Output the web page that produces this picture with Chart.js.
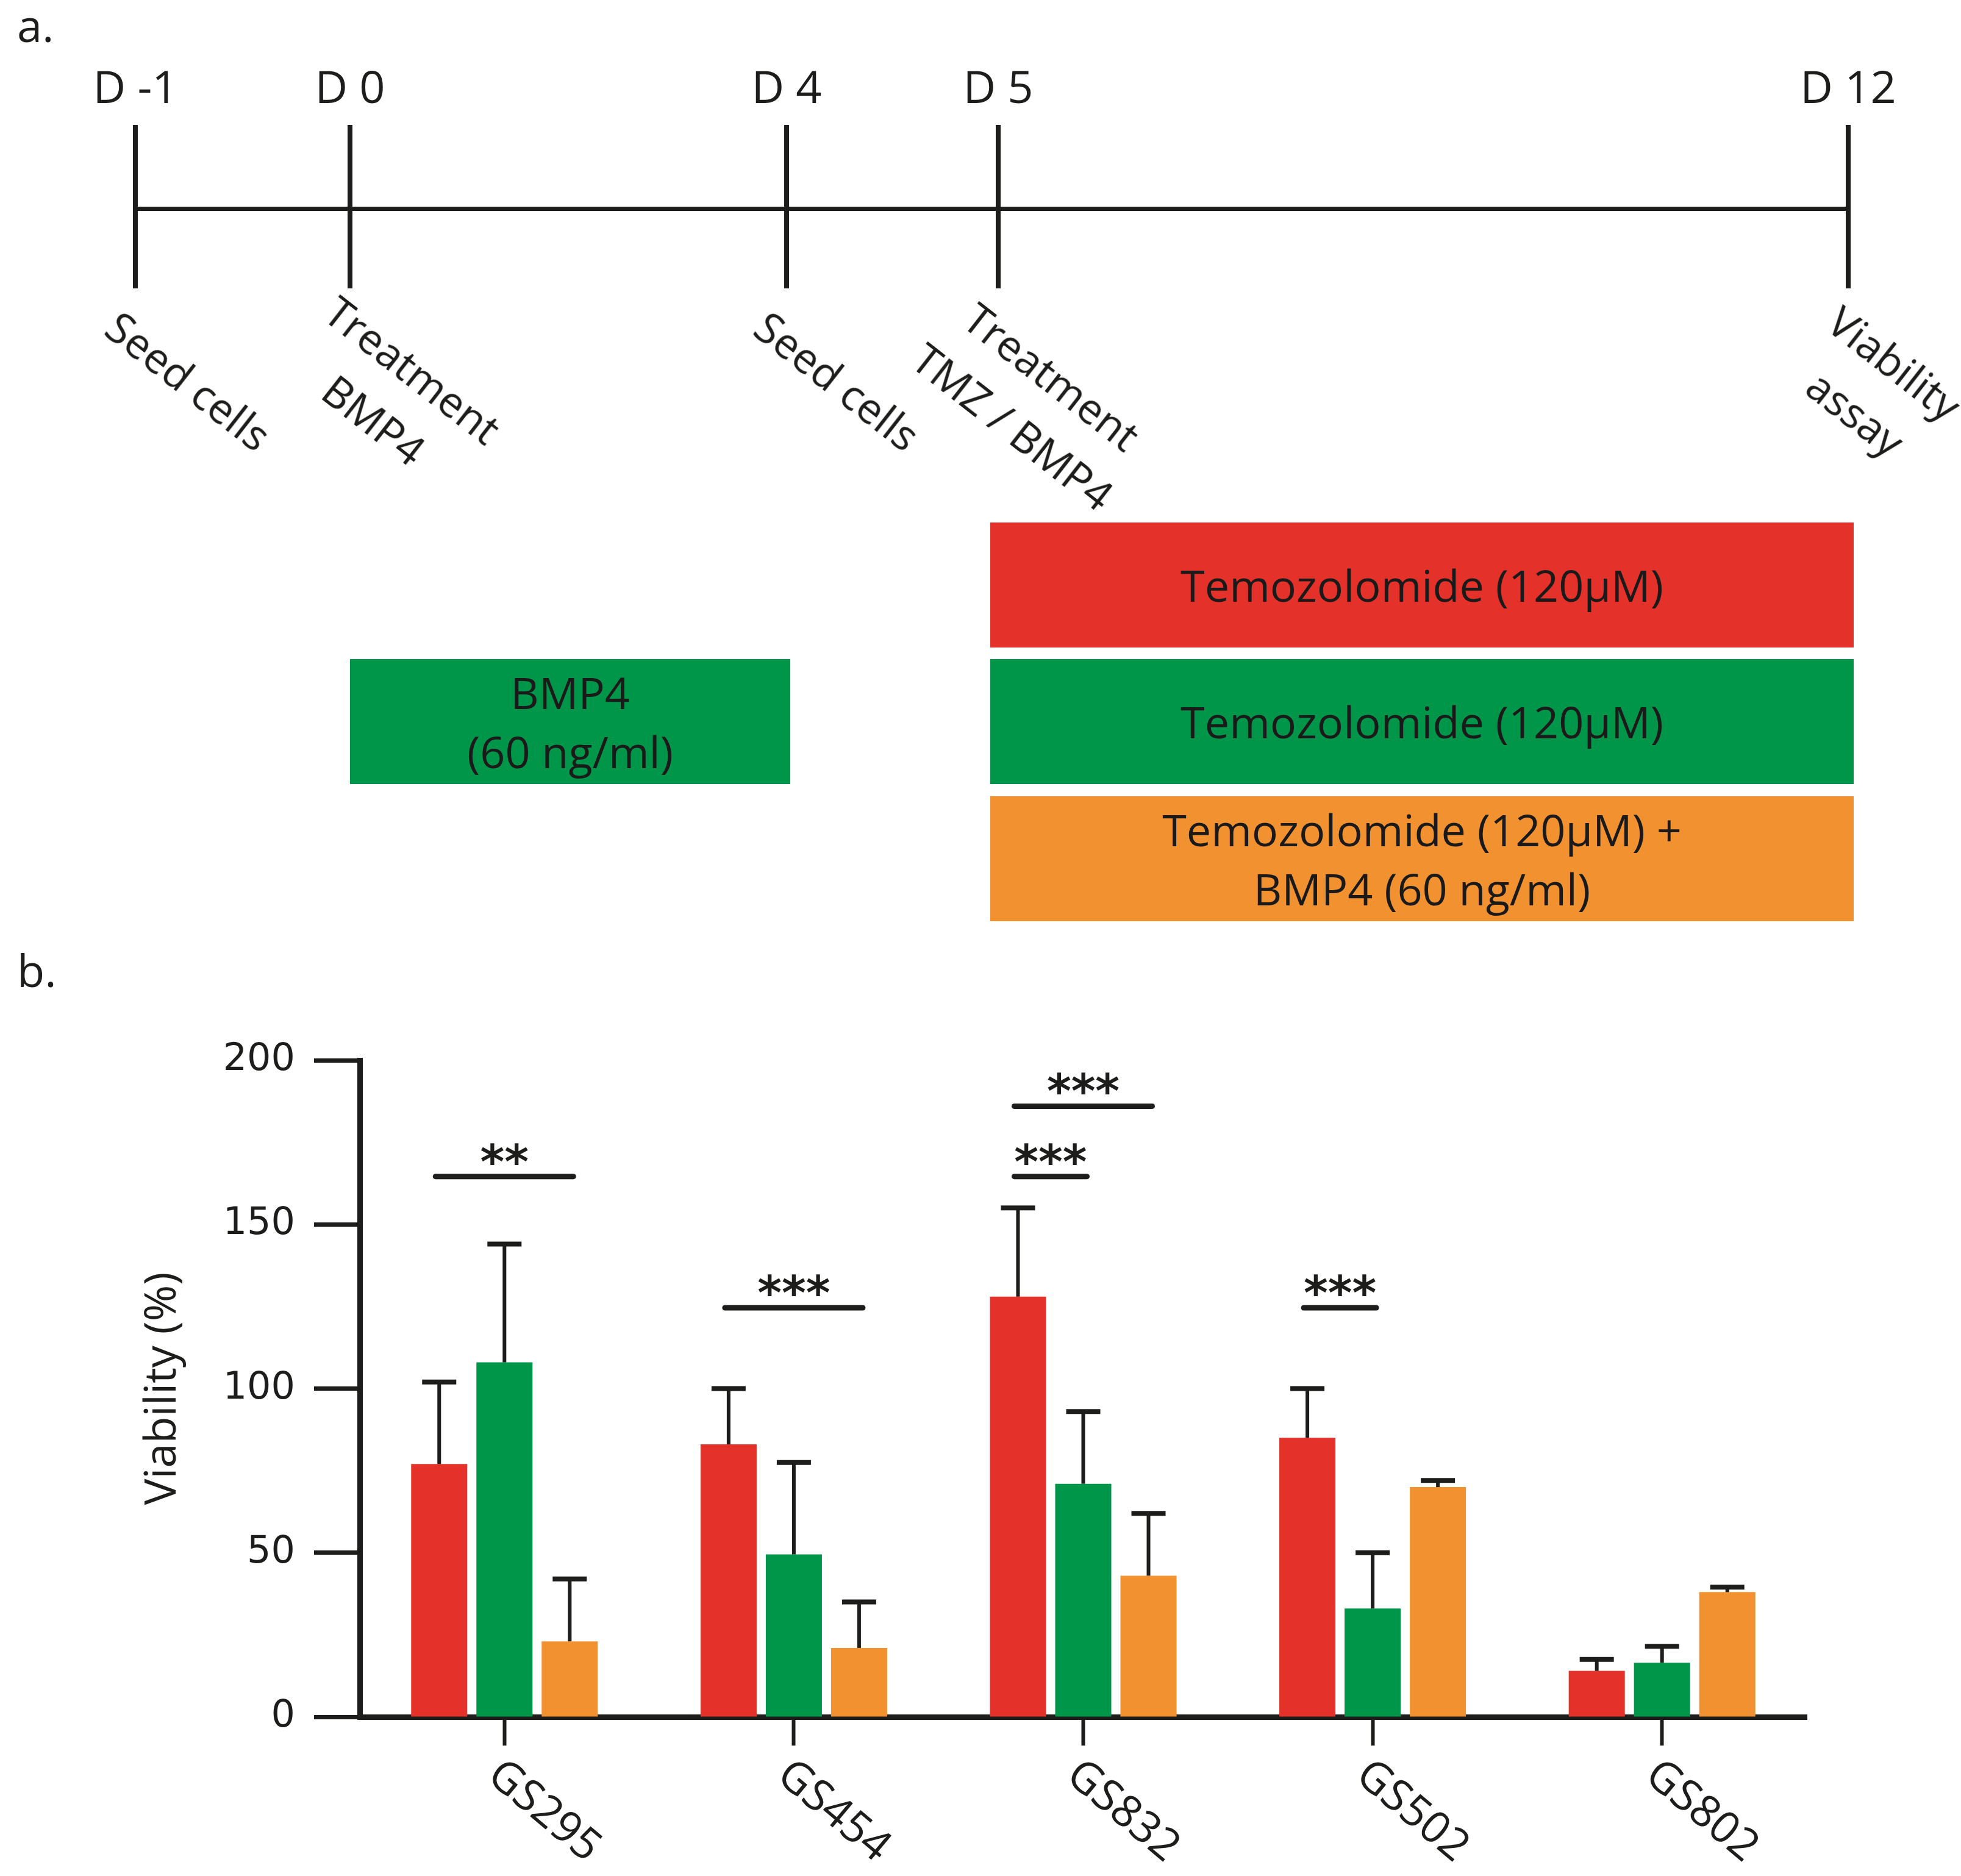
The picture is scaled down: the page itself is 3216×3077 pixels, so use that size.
<!DOCTYPE html>
<html>
<head>
<meta charset="utf-8">
<title>Viability after BMP4 / Temozolomide</title>
<script src="https://cdn.jsdelivr.net/npm/chart.js@4.4.0/dist/chart.umd.min.js"></script>
<style>
  html, body { margin: 0; padding: 0; background: #fff; }
  #page { position: relative; width: 3216px; height: 3077px; overflow: hidden;
          font-family: 'Open Sans', sans-serif; color: #1d1d1b; }
  #chart { position: absolute; left: 0; top: 0; }
  .abs { position: absolute; white-space: pre; }
  .panel-tag { font-size: 74px; line-height: 74px; }
  .day { font-size: 74px; line-height: 74px; transform: translateX(-50%); }
  .event { font-size: 70px; line-height: 104px; text-align: center;
           transform: translate(-50%, -50%) rotate(38deg); }
  .rule { background: #1d1d1b; }
  .box { display: flex; align-items: center; justify-content: center; text-align: center;
         font-size: 72px; line-height: 97px; color: #1a1a1a; }
</style>
</head>
<body>
<div id="page">
  <canvas id="chart" width="3216" height="3077"></canvas>
</div>
<script>
// ---- panel a: treatment schedule ----
const days = [-1, 0, 4, 5, 12];
const dayEvents = ['Seed cells', 'Treatment\nBMP4', 'Seed cells', 'Treatment\nTMZ / BMP4', 'Viability\nassay'];
const pretreatLabel = 'BMP4\n(60 ng/ml)';
const armLabels = ['Temozolomide (120µM)', 'Temozolomide (120µM)', 'Temozolomide (120µM) +\nBMP4 (60 ng/ml)'];

// ---- panel b: viability per cell line ----
const categories = ['GS295', 'GS454', 'GS832', 'GS502', 'GS802'];
const seriesNames = ['Temozolomide', 'BMP4 then Temozolomide', 'Temozolomide + BMP4'];
const tmzMean = [77, 83, 128, 85, 14];
const tmzErr = [25, 17, 27, 15, 3.5];
const preMean = [108, 49.5, 71, 33, 16.5];
const preErr = [36, 28, 22, 17, 5];
const comboMean = [23, 21, 43, 70, 38];
const comboErr = [19, 14, 19, 2, 1.5];
const yTicks = [0, 50, 100, 150, 200];

// significance brackets: category, first series, second series, height (%), label
const sigCategory = [0, 1, 2, 2, 3];
const sigFrom = [0, 0, 0, 0, 0];
const sigTo = [2, 2, 1, 2, 1];
const sigLevel = [164.6, 124.6, 164.6, 186, 124.6];
const sigLabel = ['**', '***', '***', '***', '***'];

const ink = '#1d1d1b';
const armColors = ['#e4322b', '#00964a', '#f29130'];

// ---- build panel a (schematic) ----
const page = document.getElementById('page');
function add(cls, css, text) {
  const d = document.createElement('div');
  d.className = 'abs ' + cls;
  Object.assign(d.style, css);
  if (text) d.textContent = text;
  page.appendChild(d);
  return d;
}

const dayX = [222, 574, 1290, 1637, 3031];
const eventCenter = [[310, 624], [646, 647], [1374, 624], [1694, 658], [3076, 636]];

add('panel-tag', { left: '28px', top: '4px' }, 'a.');
add('panel-tag', { left: '28px', top: '1554px' }, 'b.');

add('rule', { left: dayX[0] + 'px', top: '339px', width: (dayX[4] - dayX[0]) + 'px', height: '7px' });
days.forEach((d, i) => {
  add('rule', { left: (dayX[i] - 4) + 'px', top: '205px', width: '8px', height: '268px' });
  add('day', { left: dayX[i] + 'px', top: '104px' }, 'D ' + d);
  add('event', { left: eventCenter[i][0] + 'px', top: eventCenter[i][1] + 'px' }, dayEvents[i]);
});

add('box', { left: dayX[1] + 'px', top: '1081px', width: (dayX[2] + 6 - dayX[1]) + 'px', height: '205px',
             background: armColors[1] }, pretreatLabel);
const armTop = [857, 1081, 1306];
armLabels.forEach((t, i) => {
  add('box', { left: (dayX[3] - 13) + 'px', top: armTop[i] + 'px', width: (dayX[4] + 9 - dayX[3] + 13) + 'px',
               height: '205px', background: armColors[i] }, t);
});

// ---- panel b chart ----
const annotations = {
  id: 'annotations',
  afterDatasetsDraw(chart) {
    const { ctx, scales: { x, y } } = chart;
    ctx.save();
    ctx.strokeStyle = ink;
    ctx.fillStyle = ink;

    // error bars (upper only)
    chart.data.datasets.forEach((ds, di) => {
      chart.getDatasetMeta(di).data.forEach((bar, i) => {
        const top = y.getPixelForValue(ds.data[i] + ds.errors[i]);
        ctx.lineWidth = 6;
        ctx.beginPath();
        ctx.moveTo(bar.x, bar.y);
        ctx.lineTo(bar.x, top);
        ctx.stroke();
        ctx.lineWidth = 8;
        ctx.beginPath();
        ctx.moveTo(bar.x - 28, top);
        ctx.lineTo(bar.x + 28, top);
        ctx.stroke();
      });
    });

    // significance lines and stars
    ctx.lineWidth = 9;
    ctx.lineCap = 'round';
    ctx.font = 'bold 76px "DejaVu Sans"';
    ctx.textAlign = 'center';
    ctx.textBaseline = 'alphabetic';
    sigLabel.forEach((lab, k) => {
      const a = chart.getDatasetMeta(sigFrom[k]).data[sigCategory[k]];
      const b = chart.getDatasetMeta(sigTo[k]).data[sigCategory[k]];
      const ly = y.getPixelForValue(sigLevel[k]);
      ctx.beginPath();
      ctx.moveTo(a.x - 6, ly);
      ctx.lineTo(b.x + 6, ly);
      ctx.stroke();
      const m = ctx.measureText(lab);
      const cy = ly - 37;
      const base = cy - (m.actualBoundingBoxDescent - m.actualBoundingBoxAscent) / 2;
      ctx.fillText(lab, (a.x + b.x) / 2, base);
    });
    ctx.restore();
  },
  afterDraw(chart) {
    const { ctx, scales: { x } } = chart;
    ctx.save();
    ctx.fillStyle = ink;
    ctx.font = '72px "Open Sans"';
    ctx.textAlign = 'left';
    ctx.textBaseline = 'middle';
    categories.forEach((c, i) => {
      ctx.save();
      ctx.translate(x.getPixelForTick(i) - 18, x.top + 86);
      ctx.rotate(40 * Math.PI / 180);
      ctx.fillText(c, 0, 0);
      ctx.restore();
    });
    ctx.restore();
  }
};

const seriesMeans = [tmzMean, preMean, comboMean];
const seriesErrs = [tmzErr, preErr, comboErr];

new Chart(document.getElementById('chart'), {
  type: 'bar',
  data: {
    labels: categories,
    datasets: seriesNames.map((name, i) => ({
      label: name,
      data: seriesMeans[i],
      errors: seriesErrs[i],
      backgroundColor: armColors[i],
      borderWidth: 0,
      categoryPercentage: 0.6765,
      barPercentage: 0.86
    }))
  },
  options: {
    responsive: false,
    animation: false,
    devicePixelRatio: 1,
    layout: { padding: { left: 0, top: 1739, right: 253, bottom: 0 } },
    plugins: { legend: { display: false }, tooltip: { enabled: false } },
    scales: {
      x: {
        grid: { offset: false, drawOnChartArea: false, tickLength: 47, tickWidth: 6, tickColor: ink },
        border: { color: ink, width: 9 },
        ticks: { display: false },
        afterFit(s) { s.height = 261; }
      },
      y: {
        min: 0,
        max: 200,
        afterBuildTicks(s) { s.ticks = yTicks.map(v => ({ value: v })); },
        grid: { drawOnChartArea: false, tickLength: 75, tickWidth: 7, tickColor: ink },
        border: { color: ink, width: 9 },
        ticks: { font: { family: 'DejaVu Sans', size: 62 }, color: ink, padding: 31 },
        title: { display: true, text: 'Viability (%)', color: ink,
                 font: { family: 'Open Sans', size: 72 }, padding: { top: 224, bottom: 0 } },
        afterFit(s) { s.width = 590; }
      }
    }
  },
  plugins: [annotations]
});
</script>
</body>
</html>
